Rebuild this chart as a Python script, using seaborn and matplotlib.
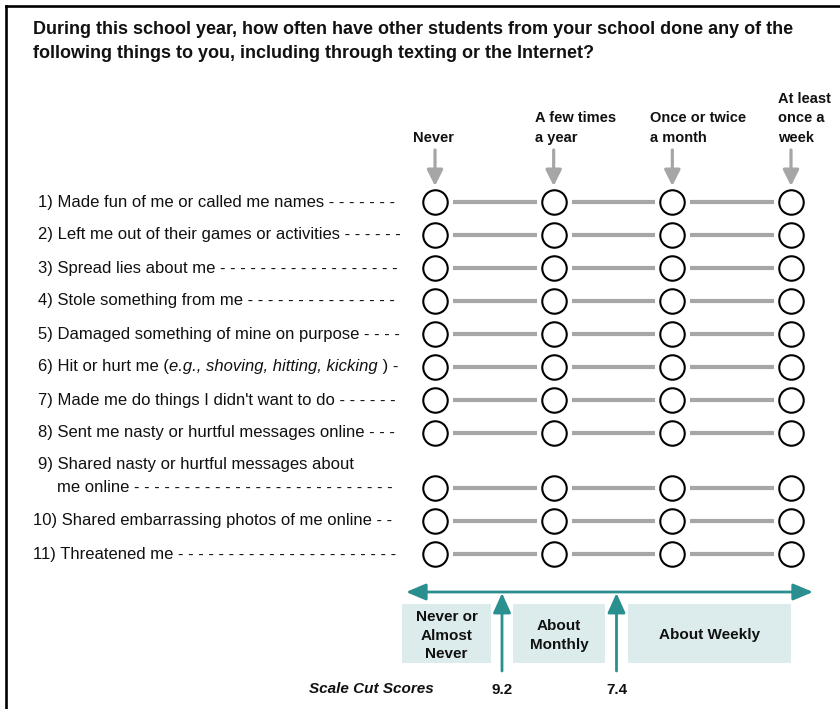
import numpy as np
import pandas as pd
import matplotlib
matplotlib.use("Agg")
import matplotlib.pyplot as plt
import seaborn as sns
from matplotlib.lines import Line2D
from matplotlib.patches import Rectangle

# ---------------- data ----------------
title_lines = [
    "During this school year, how often have other students from your school done any of the",
    "following things to you, including through texting or the Internet?",
]
responses = ["Never", "A few times\na year", "Once or twice\na month", "At least\nonce a\nweek"]
items = [
    "1) Made fun of me or called me names",
    "2) Left me out of their games or activities",
    "3) Spread lies about me",
    "4) Stole something from me",
    "5) Damaged something of mine on purpose",
    "6) Hit or hurt me (e.g., shoving, hitting, kicking )",
    "7) Made me do things I didn't want to do",
    "8) Sent me nasty or hurtful messages online",
    "9) Shared nasty or hurtful messages about\nme online",
    "10) Shared embarrassing photos of me online",
    "11) Threatened me",
]
italic_phrase = "e.g., shoving, hitting, kicking"
bands = ["Never or\nAlmost\nNever", "About\nMonthly", "About Weekly"]
cut_scores = [9.2, 7.4]
cut_title = "Scale Cut Scores"

# ---------------- style ----------------
sns.set_theme(style="white")
plt.rcParams["font.family"] = ["Liberation Sans", "DejaVu Sans"]

GRAY = "#a6a6a6"
TEAL = "#2a8f8f"
BOXFILL = "#dcecec"
INK = "#111111"

fig = plt.figure(figsize=(8.4, 7.09), dpi=100)
ax = fig.add_axes([0, 0, 1, 1])

# layout (pixel coordinates)
col_x = np.linspace(435, 791, len(responses))
idx = np.arange(len(items))
row_y = 202 + 33 * idx + np.where(idx >= 8, 22, 0)

df = pd.DataFrame(
    [(it, r, col_x[j], row_y[i]) for i, it in enumerate(items) for j, r in enumerate(responses)],
    columns=["item", "response", "x", "y"],
)

# connecting gray lines
for y in row_y:
    for j in range(len(col_x) - 1):
        ax.plot([col_x[j] + 18, col_x[j + 1] - 17], [y, y], color=GRAY, lw=3.0,
                solid_capstyle="butt", zorder=2)

sns.scatterplot(data=df, x="x", y="y", s=310, color="white", edgecolor="black",
                linewidth=1.5, ax=ax, legend=False, zorder=3)

ax.set_xlim(0, 840)
ax.set_ylim(709, 0)
ax.axis("off")

# frame
fig.add_artist(Line2D([6 / 840, 6 / 840], [0, 1 - 6 / 709], color="black", lw=1.9,
                      transform=fig.transFigure, solid_capstyle="projecting"))
fig.add_artist(Line2D([6 / 840, 1], [1 - 6 / 709, 1 - 6 / 709], color="black", lw=1.9,
                      transform=fig.transFigure, solid_capstyle="projecting"))

# title
for k, line in enumerate(title_lines):
    ax.text(33, 30 + 24 * k, line, fontsize=13.0, fontweight="bold", ha="left", va="center",
            color=INK)

# headers + arrows
header_x = [413, 535, 650, 778]
for j, lab in enumerate(responses):
    ax.text(header_x[j], 145, lab, fontsize=10.5, fontweight="bold", ha="left", va="bottom",
            linespacing=1.5, color=INK)
    ax.annotate("", xy=(col_x[j], 186), xytext=(col_x[j], 150),
                arrowprops=dict(arrowstyle="-|>,head_width=0.4,head_length=0.8",
                                color=GRAY, lw=2.3, mutation_scale=12,
                                shrinkA=0, shrinkB=0))

# item labels with dash leaders
ITEM_FS = 12.0
fig.canvas.draw()
renderer = fig.canvas.get_renderer()
DASH_END = 402


def fill_dashes(t):
    s = t.get_text()
    while True:
        t.set_text(s + " -")
        if t.get_window_extent(renderer).x1 > DASH_END:
            t.set_text(s)
            break
        s = s + " -"


for i, lab in enumerate(items):
    num = lab.split(")")[0]
    x0 = 38 if len(num) == 1 else 33
    y = row_y[i]
    if "\n" in lab:
        first, second = lab.split("\n")
        ax.text(x0, y - 23, first, fontsize=ITEM_FS, ha="left", va="center", color=INK)
        t = ax.text(57, y, second, fontsize=ITEM_FS, ha="left", va="center", color=INK)
        fill_dashes(t)
    elif italic_phrase in lab:
        pre, post = lab.split(italic_phrase)
        t1 = ax.text(x0, y, pre, fontsize=ITEM_FS, ha="left", va="center", color=INK)
        t2 = ax.annotate(italic_phrase, xy=(1, 0), xycoords=t1, va="bottom", ha="left",
                         fontsize=ITEM_FS, fontstyle="italic", color=INK)
        t3 = ax.annotate(post, xy=(1, 0), xycoords=t2, va="bottom", ha="left",
                         fontsize=ITEM_FS, color=INK)
        fig.canvas.draw()
        fill_dashes(t3)
    else:
        t = ax.text(x0, y, lab, fontsize=ITEM_FS, ha="left", va="center", color=INK)
        fill_dashes(t)

# bottom scale
ax.annotate("", xy=(406, 592), xytext=(813, 592),
            arrowprops=dict(arrowstyle="<|-|>,head_width=0.42,head_length=1.0",
                            color=TEAL, lw=2.0, mutation_scale=12, shrinkA=0, shrinkB=0))

band_left = [402, 513, 628]
band_right = [491, 605, 791]
BOX_TOP, BOX_BOT = 604, 663
for k, lab in enumerate(bands):
    ax.add_patch(Rectangle((band_left[k], BOX_TOP), band_right[k] - band_left[k],
                           BOX_BOT - BOX_TOP, facecolor=BOXFILL, edgecolor="none", zorder=1))
    ax.text((band_left[k] + band_right[k]) / 2, (BOX_TOP + BOX_BOT) / 2 + 2, lab,
            fontsize=11, fontweight="bold", ha="center", va="center", linespacing=1.44,
            color=INK)

for k, val in enumerate(cut_scores):
    cx = (band_right[k] + band_left[k + 1]) / 2
    ax.annotate("", xy=(cx, 593), xytext=(cx, 671),
                arrowprops=dict(arrowstyle="-|>,head_width=0.45,head_length=1.0",
                                color=TEAL, lw=2.0, mutation_scale=12, shrinkA=0, shrinkB=0))
    ax.text(cx, 690, f"{val:.1f}", fontsize=11, fontweight="bold", ha="center", va="center",
            color=INK)

ax.text(434, 689, cut_title, fontsize=11, fontweight="bold", fontstyle="italic",
        ha="right", va="center", color=INK)

fig.savefig("out.png", dpi=100)
